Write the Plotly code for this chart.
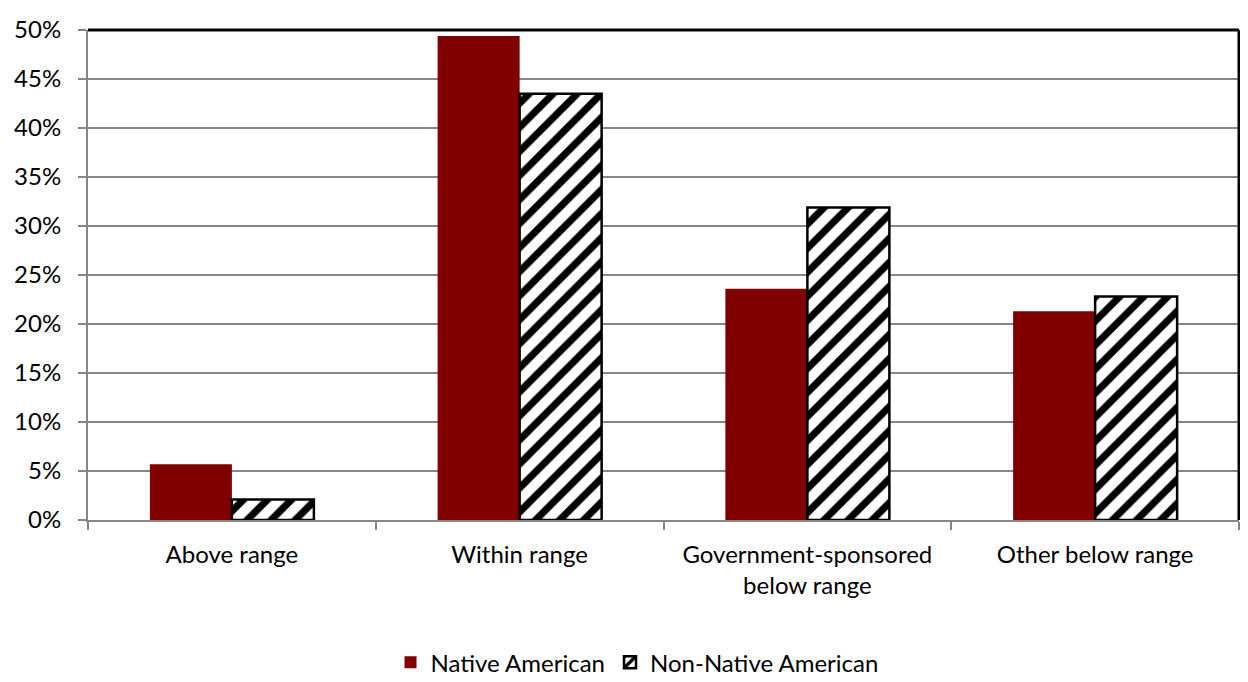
import plotly.graph_objects as go

categories = ["Above range", "Within range", "Government-sponsored<br>below range", "Other below range"]
native = [5.7, 49.4, 23.6, 21.3]
non_native = [2.1, 43.5, 31.9, 22.8]
y_ticks = [0, 5, 10, 15, 20, 25, 30, 35, 40, 45, 50]
y_tick_labels = [f"{v}%" for v in y_ticks]

FONT = "Lato, 'Open Sans', sans-serif"

fig = go.Figure()
fig.add_trace(go.Bar(
    name="Native American", x=categories, y=native,
    marker=dict(color="#800000", line=dict(width=0)),
))
fig.add_trace(go.Bar(
    name="Non-Native American", x=categories, y=non_native,
    marker=dict(color="white", line=dict(color="black", width=2.5),
                pattern=dict(shape="/", fgcolor="black", bgcolor="white",
                             size=17, solidity=0.42, fgopacity=1)),
))

fig.update_layout(
    width=1240, height=674,
    margin=dict(l=80, r=9, t=22, b=162, autoexpand=False),
    barmode="group", bargap=0.43, bargroupgap=0,
    plot_bgcolor="white", paper_bgcolor="white",
    font=dict(family=FONT, size=24, color="black"),
    showlegend=True,
    legend=dict(orientation="h", x=0.477, xanchor="center", y=-0.245, yanchor="top",
                font=dict(size=24), itemwidth=30, tracegroupgap=0),
    xaxis=dict(showline=True, linecolor="#868686", linewidth=2, automargin=False,
               ticks="outside", tickson="boundaries", ticklen=8, tickcolor="#868686", tickwidth=2,
               ticklabelstandoff=12,
               tickfont=dict(size=24), showgrid=False),
    yaxis=dict(range=[0, 50], tickvals=y_ticks, ticktext=y_tick_labels, automargin=False,
               showline=True, linecolor="#868686", linewidth=2,
               ticks="outside", ticklen=8, tickcolor="#868686", tickwidth=2,
               ticklabelstandoff=12,
               showgrid=True, gridcolor="#868686", gridwidth=2,
               zeroline=False, tickfont=dict(size=24)),
    shapes=[
        dict(type="line", xref="paper", yref="paper", x0=0, x1=1, y0=1, y1=1,
             line=dict(color="black", width=3)),
        dict(type="line", xref="paper", yref="paper", x0=1, x1=1, y0=0, y1=1,
             line=dict(color="black", width=3)),
    ],
)

fig.write_html("out.html")
